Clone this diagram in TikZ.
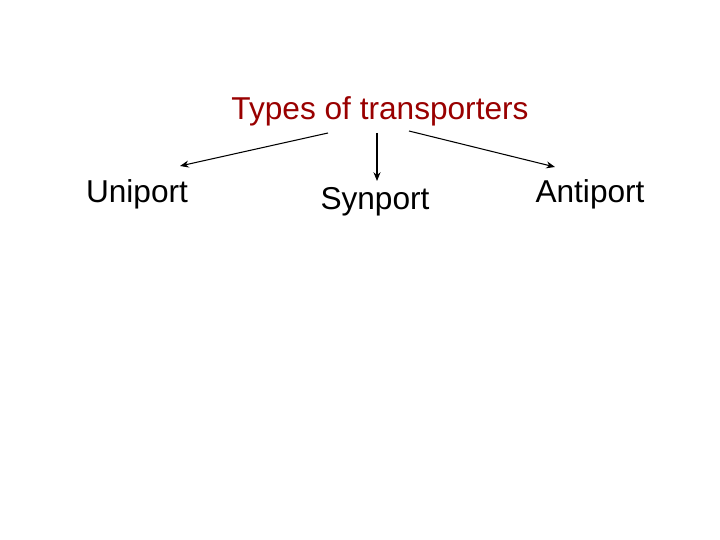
\documentclass[tikz,border=0pt]{standalone}
\usepackage{fontspec}
\setmainfont{Liberation Sans}
\usetikzlibrary{arrows.meta}
\definecolor{tred}{HTML}{990000}
\begin{document}
\begin{tikzpicture}[x=0.02cm,y=-0.02cm,
  lbl/.style={font=\fontsize{18}{20}\selectfont, inner sep=0pt},
  arr/.style={-{Stealth[length=5pt,width=4pt]}, line width=0.6pt}]
\useasboundingbox[fill=white] (0,0) rectangle (720,540);
\node[lbl, text=tred] (title) at (380,111) {Types of transporters};
\node[lbl] (uni) at (137,194) {Uniport};
\node[lbl] (syn) at (375,202) {Synport};
\node[lbl] (anti) at (590,194) {Antiport};
\coordinate (s1) at (328,133); \coordinate (e1) at (180,166);
\coordinate (s2) at (377,133); \coordinate (e2) at (377,181);
\coordinate (s3) at (409,131); \coordinate (e3) at (555,167);
\draw[arr] (s1) -- (e1);
\draw[arr] (s2) -- (e2);
\draw[arr] (s3) -- (e3);
\end{tikzpicture}
\end{document}
